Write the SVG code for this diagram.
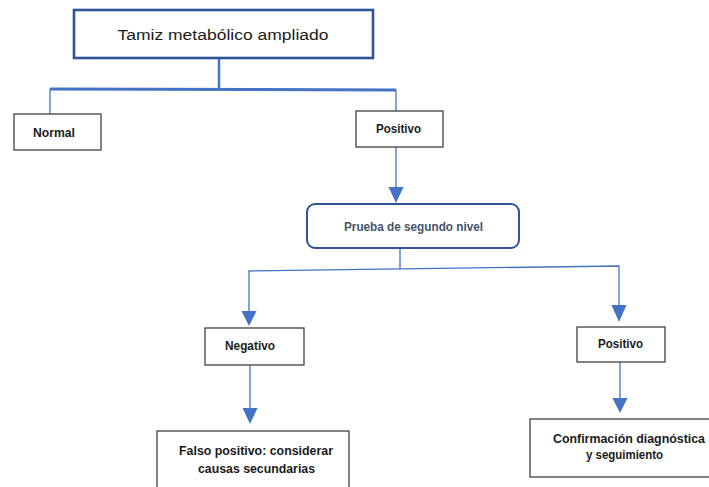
<svg xmlns="http://www.w3.org/2000/svg" width="709" height="487" viewBox="0 0 709 487">
<style>
.box{fill:#fff;stroke:#3f3f3f;stroke-width:1.3}
.lbl{font-family:"Liberation Sans",Arial,sans-serif;font-weight:bold;font-size:12.5px;fill:#1a1a1a;text-anchor:middle}
.ln{fill:none;stroke:#4472C4;stroke-width:1.3}
.head{fill:#4472C4}
</style>
<rect width="709" height="487" fill="#fff"/>
<g id="connectors">
<path class="ln" d="M219,58 V89" style="stroke-width:2.5"/>
<path class="ln" d="M50,89 L396,90" style="stroke-width:3"/>
<path class="ln" d="M50,89 V114"/>
<path class="ln" d="M396,90 V111"/>
<path class="ln" d="M396,147 V188"/>
<polygon class="head" points="388.5,187 403.5,187 396,203"/>
<path class="ln" d="M400,248 V269"/>
<path class="ln" d="M249,311 V271 L619,266 V306"/>
<polygon class="head" points="241.5,311 256.5,311 249,326"/>
<polygon class="head" points="611.5,305 626.5,305 619,322"/>
<path class="ln" d="M250,365 V410"/>
<polygon class="head" points="242.5,408 257.5,408 250,424"/>
<path class="ln" d="M620,362 V399"/>
<polygon class="head" points="612.5,398 627.5,398 620,413"/>
</g>
<g id="tamiz">
<rect x="74" y="10" width="299" height="48" fill="#fff" stroke="#2F5597" stroke-width="2.6"/>
<text x="223" y="40" font-family="Liberation Sans,Arial,sans-serif" font-size="15.5" fill="#1a1a1a" text-anchor="middle" textLength="211" lengthAdjust="spacingAndGlyphs">Tamiz metabólico ampliado</text>
</g>
<g id="normal">
<rect class="box" x="14" y="114" width="87" height="36"/>
<text class="lbl" x="54" y="137" textLength="42" lengthAdjust="spacingAndGlyphs">Normal</text>
</g>
<g id="positivo1">
<rect class="box" x="356" y="111" width="87" height="36"/>
<text class="lbl" x="398.5" y="133" textLength="45" lengthAdjust="spacingAndGlyphs">Positivo</text>
</g>
<g id="prueba">
<rect x="307" y="204" width="212" height="44" rx="8" fill="#fff" stroke="#2F5597" stroke-width="2"/>
<text class="lbl" x="413.5" y="231" style="fill:#44546A" textLength="139" lengthAdjust="spacingAndGlyphs">Prueba de segundo nivel</text>
</g>
<g id="negativo">
<rect class="box" x="205" y="328" width="99" height="37"/>
<text class="lbl" x="250" y="350" textLength="50" lengthAdjust="spacingAndGlyphs">Negativo</text>
</g>
<g id="positivo2">
<rect class="box" x="577" y="327" width="88" height="35"/>
<text class="lbl" x="620.5" y="348" textLength="45" lengthAdjust="spacingAndGlyphs">Positivo</text>
</g>
<g id="falso">
<rect class="box" x="157" y="431" width="192" height="70"/>
<text class="lbl" x="256" y="455" textLength="154" lengthAdjust="spacingAndGlyphs">Falso positivo: considerar</text>
<text class="lbl" x="256.5" y="473" textLength="117" lengthAdjust="spacingAndGlyphs">causas secundarias</text>
</g>
<g id="confirmacion">
<rect class="box" x="530" y="419" width="190" height="58"/>
<text class="lbl" x="629" y="443" textLength="152" lengthAdjust="spacingAndGlyphs">Confirmación diagnóstica</text>
<text class="lbl" x="624.5" y="459" textLength="77" lengthAdjust="spacingAndGlyphs">y seguimiento</text>
</g>
</svg>
